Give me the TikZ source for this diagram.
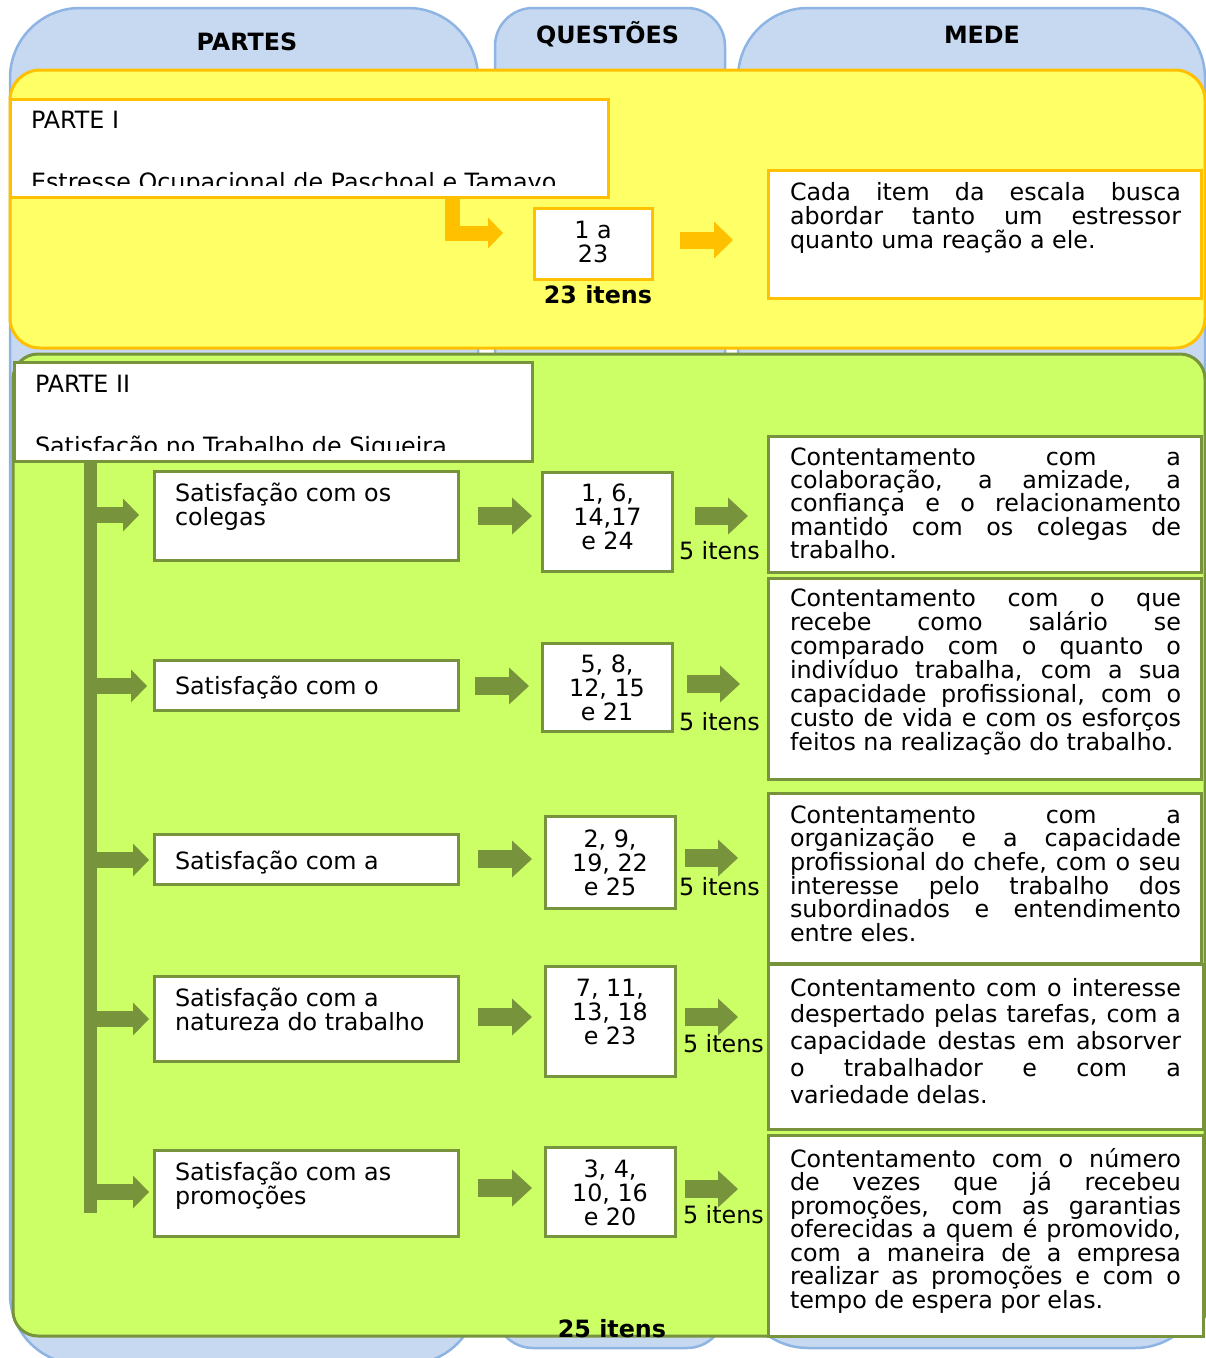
\documentclass[tikz,border=0pt]{standalone}
\usepackage{fontspec}
\setmainfont{DejaVu Sans}
\usetikzlibrary{arrows.meta}
\definecolor{bluefill}{HTML}{C6D9F1}
\definecolor{blueline}{HTML}{8EB4E3}
\definecolor{yfill}{HTML}{FFFF66}
\definecolor{yline}{HTML}{FFC000}
\definecolor{gfill}{HTML}{CCFF66}
\definecolor{gline}{HTML}{77933C}
\newcommand\jl[1]{\hbox to 391pt{#1}}
\newcommand\nl[1]{\hbox{#1}}
\newcommand\cl[1]{\hbox to 0pt{\hss#1\hss}}
\AtBeginDocument{\lineskiplimit=-40pt\relax}
\tikzset{
  col/.style={fill=bluefill, draw=blueline, line width=2.5pt},
  ybox/.style={draw=yline, line width=3pt, fill=white, inner sep=0pt, outer sep=0pt, anchor=north west},
  gbox/.style={draw=gline, line width=3pt, fill=white, inner sep=0pt, outer sep=0pt, anchor=north west},
  txt/.style={inner sep=0pt, outer sep=0pt, anchor=base west},
  ctxt/.style={inner sep=0pt, outer sep=0pt, anchor=base},
  hdr/.style={inner sep=0pt, outer sep=0pt, anchor=base, font=\fontsize{23.8}{24}\selectfont\bfseries},
  oelbow/.style={draw=yline, line width=15pt, line join=miter, -{Triangle[width=31pt,length=15pt,line width=0pt]}},
  oarr/.style={draw=yline, line width=17pt, -{Triangle[width=37pt,length=19pt,line width=0pt]}},
  garr/.style={draw=gline, line width=18pt, -{Triangle[width=37pt,length=20pt,line width=0pt]}},
  brarr/.style={draw=gline, line width=16pt, -{Triangle[width=33pt,length=16pt,line width=0pt]}},
}
\begin{document}
\begin{tikzpicture}[x=1pt,y=-1pt,font=\fontsize{23.8}{24}\selectfont]
\useasboundingbox (0,0) rectangle (1206,1358);
\begin{scope}
\clip (0,0) rectangle (1206,1358);
% background columns
\draw[col, rounded corners=70pt] (10,8) rectangle (478,1364);
\draw[col, rounded corners=38pt] (495,8) rectangle (725,1348);
\draw[col, rounded corners=70pt] (738,8) rectangle (1205,1348);
\node[hdr] (hA) at (247,50) {PARTES};
\node[hdr] (hB) at (607.5,43) {QUESTÕES};
\node[hdr] (hC) at (982,43) {MEDE};

% ===== PARTE I =====
\draw[fill=yfill, draw=yline, line width=3pt, rounded corners=30pt] (10,70) rectangle (1205,348);
\node[ybox, minimum width=598pt, minimum height=98pt] (p1) at (10,99) {};
\node[ybox, minimum width=118pt, minimum height=71pt] (q1) at (534,208) {};
\node[ybox, minimum width=433pt, minimum height=128pt] (m1) at (768,170) {};
\begin{scope}
\clip (12,101) rectangle (606,185);
\node[txt] (p1a) at (31,128) {PARTE I};
\node[txt] (p1b) at (31,190) {Estresse Ocupacional de Paschoal e Tamayo};
\end{scope}
\coordinate (e1) at (452,196);
\coordinate (e2) at (503,233);
\draw[oelbow] (e1) |- (e2);
\coordinate (o1) at (680,240);
\coordinate (o2) at (733,240);
\draw[oarr] (o1) -- (o2);
\node[ctxt] (q1t) at (593,238) {\vtop{\cl{1 a}\cl{23}}};
\node[ctxt, font=\fontsize{23.8}{24}\selectfont\bfseries] (q1n) at (598,303) {23 itens};
\node[txt] (m1t) at (790,200) {\vtop{\jl{Cada item da escala busca}\jl{abordar tanto um estressor}\nl{quanto uma reação a ele.}}};

% ===== PARTE II =====
\draw[fill=gfill, draw=gline, line width=3pt, rounded corners=25pt] (13,354) rectangle (1205,1336);
\node[gbox, minimum width=518pt, minimum height=99pt] (p2) at (14,362) {};
\begin{scope}
\clip (16,364) rectangle (530,450);
\node[txt] (p2a) at (35,392) {PARTE II};
\node[txt] (p2b) at (35,454) {Satisfação no Trabalho de Siqueira};
\end{scope}
% vertical bar
\coordinate (bt) at (90.5,461);
\coordinate (bb) at (90.5,1213);
\draw[draw=gline, line width=13pt] (bt) -- (bb);

% sub boxes
\node[gbox, minimum width=304pt, minimum height=89pt] (s1) at (154,471) {};
\node[gbox, minimum width=304pt, minimum height=50pt] (s2) at (154,660) {};
\node[gbox, minimum width=304pt, minimum height=50pt] (s3) at (154,834) {};
\node[gbox, minimum width=304pt, minimum height=85pt] (s4) at (154,976) {};
\node[gbox, minimum width=304pt, minimum height=86pt] (s5) at (154,1150) {};
% number boxes
\node[gbox, minimum width=130pt, minimum height=99pt] (n1) at (542,472) {};
\node[gbox, minimum width=130pt, minimum height=88pt] (n2) at (542,643) {};
\node[gbox, minimum width=130pt, minimum height=92pt] (n3) at (545,816) {};
\node[gbox, minimum width=130pt, minimum height=110pt] (n4) at (545,966) {};
\node[gbox, minimum width=130pt, minimum height=89pt] (n5) at (545,1147) {};
% description boxes
\node[gbox, minimum width=433pt, minimum height=136pt] (d1) at (768,436) {};
\node[gbox, minimum width=433pt, minimum height=201pt] (d2) at (768,578) {};
\node[gbox, minimum width=433pt, minimum height=170pt] (d3) at (768,793) {};
\node[gbox, minimum width=435pt, minimum height=165pt] (d4) at (768,964) {};
\node[gbox, minimum width=435pt, minimum height=201pt] (d5) at (768,1135) {};

% branch arrows
\foreach \i/\xb/\yy in {1/139/515, 2/147/686, 3/149/860, 4/149/1019, 5/149/1192} {
  \coordinate (ba\i) at (90.5,\yy);
  \coordinate (bz\i) at (\xb,\yy);
  \draw[brarr] (ba\i) -- (bz\i);
}
% arrows sub -> number
\foreach \i/\xa/\xb/\yy in {1/478/532/516, 2/475/529/686, 3/478/532/859, 4/478/532/1017, 5/478/532/1188} {
  \coordinate (la\i) at (\xa,\yy);
  \coordinate (lb\i) at (\xb,\yy);
  \draw[garr] (la\i) -- (lb\i);
}
% labels 5 itens
\node[txt] (i1) at (679,559) {5 itens};
\node[txt] (i2) at (679,730) {5 itens};
\node[txt] (i3) at (679,895) {5 itens};
\node[txt] (i4) at (683,1052) {5 itens};
\node[txt] (i5) at (683,1223) {5 itens};
% arrows number -> description
\foreach \i/\xa/\xb/\yy in {1/695/748/516, 2/687/740/684, 3/685/738/858, 4/685/738/1017, 5/685/738/1189} {
  \coordinate (ra\i) at (\xa,\yy);
  \coordinate (rb\i) at (\xb,\yy);
  \draw[garr] (ra\i) -- (rb\i);
}

% sub box texts
\node[txt] (s1t) at (175,501) {\vtop{\nl{Satisfação com os}\nl{colegas}}};
\node[txt] (s2t) at (175,694) {Satisfação com o};
\node[txt] (s3t) at (175,869) {Satisfação com a};
\node[txt] (s4t) at (175,1006) {\vtop{\nl{Satisfação com a}\nl{natureza do trabalho}}};
\node[txt] (s5t) at (175,1180) {\vtop{\nl{Satisfação com as}\nl{promoções}}};

% number texts
\node[ctxt] (n1t) at (607.5,501) {\vtop{\cl{1, 6,}\cl{14,17}\cl{e 24}}};
\node[ctxt] (n2t) at (607,672) {\vtop{\cl{5, 8,}\cl{12, 15}\cl{e 21}}};
\node[ctxt] (n3t) at (610,847) {\vtop{\cl{2, 9,}\cl{19, 22}\cl{e 25}}};
\node[ctxt] (n4t) at (610,996) {\vtop{\cl{7, 11,}\cl{13, 18}\cl{e 23}}};
\node[ctxt] (n5t) at (610,1177) {\vtop{\cl{3, 4,}\cl{10, 16}\cl{e 20}}};

% description texts
\node[txt] (d1t) at (790,465) {\vtop{\baselineskip=23.4pt
  \jl{Contentamento com a}
  \jl{colaboração, a amizade, a}
  \jl{confiança e o relacionamento}
  \jl{mantido com os colegas de}
  \nl{trabalho.}}};
\node[txt] (d2t) at (790,606) {\vtop{\baselineskip=24pt
  \jl{Contentamento com o que}
  \jl{recebe como salário se}
  \jl{comparado com o quanto o}
  \jl{indivíduo trabalha, com a sua}
  \jl{capacidade profissional, com o}
  \jl{custo de vida e com os esforços}
  \nl{feitos na realização do trabalho.}}};
\node[txt] (d3t) at (790,823) {\vtop{\baselineskip=23.7pt
  \jl{Contentamento com a}
  \jl{organização e a capacidade}
  \jl{profissional do chefe, com o seu}
  \jl{interesse pelo trabalho dos}
  \jl{subordinados e entendimento}
  \nl{entre eles.}}};
\node[txt] (d4t) at (790,996) {\vtop{\baselineskip=26.75pt
  \jl{Contentamento com o interesse}
  \jl{despertado pelas tarefas, com a}
  \jl{capacidade destas em absorver}
  \jl{o trabalhador e com a}
  \nl{variedade delas.}}};
\node[txt] (d5t) at (790,1167) {\vtop{\baselineskip=23.5pt
  \jl{Contentamento com o número}
  \jl{de vezes que já recebeu}
  \jl{promoções, com as garantias}
  \jl{oferecidas a quem é promovido,}
  \jl{com a maneira de a empresa}
  \jl{realizar as promoções e com o}
  \nl{tempo de espera por elas.}}};

\node[ctxt, font=\fontsize{23.8}{24}\selectfont\bfseries] (tot2) at (612,1337) {25 itens};
\end{scope}
\end{tikzpicture}
\end{document}
